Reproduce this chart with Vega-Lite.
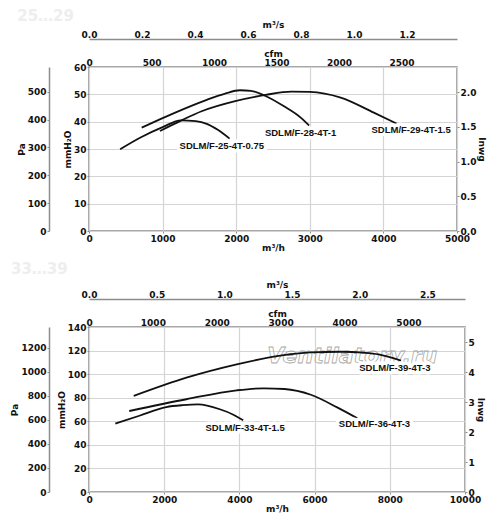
{
  "$schema": "https://vega.github.io/schema/vega-lite/v6.json",
  "padding": {"left": 10, "top": 8, "right": 5, "bottom": 2},
  "background": "white",
  "datasets": {
    "fans2529": [
      {"model": "SDLM/F-25-4T-0.75", "q": 423, "p": 29.9},
      {"model": "SDLM/F-25-4T-0.75", "q": 700, "p": 34.2},
      {"model": "SDLM/F-25-4T-0.75", "q": 1000, "p": 38.0},
      {"model": "SDLM/F-25-4T-0.75", "q": 1250, "p": 40.5},
      {"model": "SDLM/F-25-4T-0.75", "q": 1450, "p": 40.2},
      {"model": "SDLM/F-25-4T-0.75", "q": 1600, "p": 39.2},
      {"model": "SDLM/F-25-4T-0.75", "q": 1750, "p": 37.0},
      {"model": "SDLM/F-25-4T-0.75", "q": 1910, "p": 33.8},
      {"model": "SDLM/F-28-4T-1", "q": 716, "p": 37.8},
      {"model": "SDLM/F-28-4T-1", "q": 1000, "p": 41.3},
      {"model": "SDLM/F-28-4T-1", "q": 1300, "p": 44.8},
      {"model": "SDLM/F-28-4T-1", "q": 1600, "p": 48.0},
      {"model": "SDLM/F-28-4T-1", "q": 1850, "p": 50.3},
      {"model": "SDLM/F-28-4T-1", "q": 2050, "p": 51.5},
      {"model": "SDLM/F-28-4T-1", "q": 2200, "p": 51.3},
      {"model": "SDLM/F-28-4T-1", "q": 2400, "p": 49.4},
      {"model": "SDLM/F-28-4T-1", "q": 2650, "p": 45.6},
      {"model": "SDLM/F-28-4T-1", "q": 2880, "p": 41.4},
      {"model": "SDLM/F-28-4T-1", "q": 2990, "p": 38.6},
      {"model": "SDLM/F-29-4T-1.5", "q": 964, "p": 36.6},
      {"model": "SDLM/F-29-4T-1.5", "q": 1250, "p": 40.4},
      {"model": "SDLM/F-29-4T-1.5", "q": 1530, "p": 43.8},
      {"model": "SDLM/F-29-4T-1.5", "q": 2000, "p": 47.6},
      {"model": "SDLM/F-29-4T-1.5", "q": 2400, "p": 49.8},
      {"model": "SDLM/F-29-4T-1.5", "q": 2750, "p": 51.0},
      {"model": "SDLM/F-29-4T-1.5", "q": 3000, "p": 50.9},
      {"model": "SDLM/F-29-4T-1.5", "q": 3420, "p": 48.8},
      {"model": "SDLM/F-29-4T-1.5", "q": 3870, "p": 43.3},
      {"model": "SDLM/F-29-4T-1.5", "q": 4180, "p": 39.3}
    ],
    "labels2529": [
      {"model": "SDLM/F-25-4T-0.75", "q": 1804, "p": 31.1},
      {"model": "SDLM/F-28-4T-1", "q": 2874, "p": 35.7},
      {"model": "SDLM/F-29-4T-1.5", "q": 4376, "p": 37.0}
    ],
    "fans3339": [
      {"model": "SDLM/F-33-4T-1.5", "q": 700, "p": 58.0},
      {"model": "SDLM/F-33-4T-1.5", "q": 1340, "p": 64.7},
      {"model": "SDLM/F-33-4T-1.5", "q": 2054, "p": 72.1},
      {"model": "SDLM/F-33-4T-1.5", "q": 2500, "p": 73.7},
      {"model": "SDLM/F-33-4T-1.5", "q": 2900, "p": 74.3},
      {"model": "SDLM/F-33-4T-1.5", "q": 3480, "p": 70.2},
      {"model": "SDLM/F-33-4T-1.5", "q": 3840, "p": 65.6},
      {"model": "SDLM/F-33-4T-1.5", "q": 4100, "p": 60.8},
      {"model": "SDLM/F-36-4T-3", "q": 1071, "p": 68.7},
      {"model": "SDLM/F-36-4T-3", "q": 2590, "p": 78.7},
      {"model": "SDLM/F-36-4T-3", "q": 3929, "p": 86.3},
      {"model": "SDLM/F-36-4T-3", "q": 4650, "p": 88.0},
      {"model": "SDLM/F-36-4T-3", "q": 5200, "p": 87.4},
      {"model": "SDLM/F-36-4T-3", "q": 5900, "p": 82.5},
      {"model": "SDLM/F-36-4T-3", "q": 6600, "p": 71.8},
      {"model": "SDLM/F-36-4T-3", "q": 7140, "p": 62.5},
      {"model": "SDLM/F-39-4T-3", "q": 1189, "p": 81.5},
      {"model": "SDLM/F-39-4T-3", "q": 2590, "p": 97.0},
      {"model": "SDLM/F-39-4T-3", "q": 3929, "p": 108.3},
      {"model": "SDLM/F-39-4T-3", "q": 5000, "p": 115.3},
      {"model": "SDLM/F-39-4T-3", "q": 5900, "p": 118.5},
      {"model": "SDLM/F-39-4T-3", "q": 6700, "p": 119.0},
      {"model": "SDLM/F-39-4T-3", "q": 7300, "p": 118.2},
      {"model": "SDLM/F-39-4T-3", "q": 7700, "p": 116.8},
      {"model": "SDLM/F-39-4T-3", "q": 8300, "p": 111.5}
    ],
    "labels3339": [
      {"model": "SDLM/F-33-4T-1.5", "q": 4152, "p": 54.6},
      {"model": "SDLM/F-36-4T-3", "q": 7593, "p": 57.4},
      {"model": "SDLM/F-39-4T-3", "q": 8134, "p": 105.5}
    ],
    "watermark": [
      {"text": "Ventilatory.ru", "q": 7000, "p": 115.4}
    ]
  },
  "vconcat": [
    {
      "title": {"text": "25…29", "anchor": "start", "frame": "bounds", "color": "#eeeeee", "fontSize": 15, "font": "DejaVu Sans", "fontWeight": "bold", "offset": -4},
      "width": 368,
      "height": 164,
      "layer": [
        {
          "data": {"name": "fans2529"},
          "mark": {"type": "line", "color": "#111111", "strokeWidth": 1.8, "interpolate": "monotone"},
          "encoding": {
            "x": {"field": "q", "type": "quantitative", "scale": {"domain": [0, 5000], "nice": false},
              "axis": {"orient": "bottom", "values": [0, 1000, 2000, 3000, 4000, 5000], "format": "d", "title": "m³/h", "grid": true, "domain": false, "titlePadding": 0}},
            "y": {"field": "p", "type": "quantitative", "scale": {"domain": [0, 60], "nice": false},
              "axis": {"orient": "left", "values": [0, 10, 20, 30, 40, 50, 60], "format": "d", "title": "mmH₂O", "grid": true, "domain": false}},
            "detail": {"field": "model"}
          }
        },
        {
          "data": {"name": "labels2529"},
          "mark": {"type": "text", "font": "Liberation Sans", "fontWeight": "bold", "fontSize": 9.5, "fill": "white", "stroke": "white", "strokeWidth": 7, "strokeJoin": "round"},
          "encoding": {
            "x": {"field": "q", "type": "quantitative", "scale": {"domain": [0, 5000], "nice": false}, "axis": null},
            "y": {"field": "p", "type": "quantitative", "scale": {"domain": [0, 60], "nice": false}, "axis": null},
            "text": {"field": "model"}
          }
        },
        {
          "data": {"name": "labels2529"},
          "mark": {"type": "text", "font": "Liberation Sans", "fontWeight": "bold", "fontSize": 9.5, "color": "#111111"},
          "encoding": {
            "x": {"field": "q", "type": "quantitative", "scale": {"domain": [0, 5000], "nice": false}, "axis": null},
            "y": {"field": "p", "type": "quantitative", "scale": {"domain": [0, 60], "nice": false}, "axis": null},
            "text": {"field": "model"}
          }
        },
        {
          "data": {"name": "labels2529"},
          "mark": {"type": "point", "opacity": 0, "clip": true},
          "encoding": {
            "x": {"field": "q", "type": "quantitative", "scale": {"domain": [0, 5000], "nice": false}, "axis": null},
            "y": {"field": "p", "type": "quantitative", "scale": {"domain": [0, 588.4], "nice": false},
              "axis": {"orient": "left", "offset": 40, "values": [0, 100, 200, 300, 400, 500], "format": "d", "title": "Pa", "grid": false, "domain": true}}
          }
        },
        {
          "data": {"name": "labels2529"},
          "mark": {"type": "point", "opacity": 0, "clip": true},
          "encoding": {
            "x": {"field": "q", "type": "quantitative", "scale": {"domain": [0, 5000], "nice": false}, "axis": null},
            "y": {"field": "p", "type": "quantitative", "scale": {"domain": [0, 2.362], "nice": false},
              "axis": {"orient": "right", "values": [0, 0.5, 1, 1.5, 2], "format": ".1f", "title": "Inwg", "grid": false, "domain": false}}
          }
        },
        {
          "data": {"name": "labels2529"},
          "mark": {"type": "point", "opacity": 0, "clip": true},
          "encoding": {
            "x": {"field": "q", "type": "quantitative", "scale": {"domain": [0, 2943], "nice": false},
              "axis": {"orient": "top", "values": [0, 500, 1000, 1500, 2000, 2500], "format": "d", "title": "cfm", "grid": false, "domain": false, "ticks": false, "labelPadding": 0, "titlePadding": 0}},
            "y": {"field": "p", "type": "quantitative", "scale": {"domain": [0, 60], "nice": false}, "axis": null}
          }
        },
        {
          "data": {"name": "labels2529"},
          "mark": {"type": "point", "opacity": 0, "clip": true},
          "encoding": {
            "x": {"field": "q", "type": "quantitative", "scale": {"domain": [0, 1.3889], "nice": false},
              "axis": {"orient": "top", "offset": 28, "values": [0, 0.2, 0.4, 0.6, 0.8, 1.0, 1.2], "format": ".1f", "title": "m³/s", "grid": false, "domain": true, "ticks": false, "labelPadding": 0, "titlePadding": 1}},
            "y": {"field": "p", "type": "quantitative", "scale": {"domain": [0, 60], "nice": false}, "axis": null}
          }
        }
      ],
      "resolve": {"scale": {"x": "independent", "y": "independent"}}
    },
    {
      "title": {"text": "33…39", "anchor": "start", "frame": "bounds", "color": "#eeeeee", "fontSize": 15, "font": "DejaVu Sans", "fontWeight": "bold", "offset": 3},
      "width": 376,
      "height": 165,
      "layer": [
        {
          "data": {"name": "watermark"},
          "mark": {"type": "text", "font": "DejaVu Sans", "fontStyle": "italic", "fontWeight": "bold", "fontSize": 22, "fillOpacity": 0, "stroke": "#aaaaaa", "strokeWidth": 0.8},
          "encoding": {
            "x": {"field": "q", "type": "quantitative", "scale": {"domain": [0, 10000], "nice": false}, "axis": null},
            "y": {"field": "p", "type": "quantitative", "scale": {"domain": [0, 140], "nice": false}, "axis": null},
            "text": {"field": "text"}
          }
        },
        {
          "data": {"name": "fans3339"},
          "mark": {"type": "line", "color": "#111111", "strokeWidth": 1.8, "interpolate": "monotone"},
          "encoding": {
            "x": {"field": "q", "type": "quantitative", "scale": {"domain": [0, 10000], "nice": false},
              "axis": {"orient": "bottom", "values": [0, 2000, 4000, 6000, 8000, 10000], "format": "d", "title": "m³/h", "grid": true, "domain": false, "titlePadding": 0}},
            "y": {"field": "p", "type": "quantitative", "scale": {"domain": [0, 140], "nice": false},
              "axis": {"orient": "left", "values": [0, 20, 40, 60, 80, 100, 120, 140], "format": "d", "title": "mmH₂O", "grid": true, "domain": false}},
            "detail": {"field": "model"}
          }
        },
        {
          "data": {"name": "labels3339"},
          "mark": {"type": "text", "font": "Liberation Sans", "fontWeight": "bold", "fontSize": 9.5, "fill": "white", "stroke": "white", "strokeWidth": 7, "strokeJoin": "round"},
          "encoding": {
            "x": {"field": "q", "type": "quantitative", "scale": {"domain": [0, 10000], "nice": false}, "axis": null},
            "y": {"field": "p", "type": "quantitative", "scale": {"domain": [0, 140], "nice": false}, "axis": null},
            "text": {"field": "model"}
          }
        },
        {
          "data": {"name": "labels3339"},
          "mark": {"type": "text", "font": "Liberation Sans", "fontWeight": "bold", "fontSize": 9.5, "color": "#111111"},
          "encoding": {
            "x": {"field": "q", "type": "quantitative", "scale": {"domain": [0, 10000], "nice": false}, "axis": null},
            "y": {"field": "p", "type": "quantitative", "scale": {"domain": [0, 140], "nice": false}, "axis": null},
            "text": {"field": "model"}
          }
        },
        {
          "data": {"name": "labels3339"},
          "mark": {"type": "point", "opacity": 0, "clip": true},
          "encoding": {
            "x": {"field": "q", "type": "quantitative", "scale": {"domain": [0, 10000], "nice": false}, "axis": null},
            "y": {"field": "p", "type": "quantitative", "scale": {"domain": [0, 1372.9], "nice": false},
              "axis": {"orient": "left", "offset": 40, "values": [0, 200, 400, 600, 800, 1000, 1200], "format": "d", "title": "Pa", "grid": false, "domain": true}}
          }
        },
        {
          "data": {"name": "labels3339"},
          "mark": {"type": "point", "opacity": 0, "clip": true},
          "encoding": {
            "x": {"field": "q", "type": "quantitative", "scale": {"domain": [0, 10000], "nice": false}, "axis": null},
            "y": {"field": "p", "type": "quantitative", "scale": {"domain": [0, 5.512], "nice": false},
              "axis": {"orient": "right", "values": [0, 1, 2, 3, 4, 5], "format": "d", "title": "Inwg", "grid": false, "domain": false}}
          }
        },
        {
          "data": {"name": "labels3339"},
          "mark": {"type": "point", "opacity": 0, "clip": true},
          "encoding": {
            "x": {"field": "q", "type": "quantitative", "scale": {"domain": [0, 5886], "nice": false},
              "axis": {"orient": "top", "values": [0, 1000, 2000, 3000, 4000, 5000], "format": "d", "title": "cfm", "grid": false, "domain": false, "ticks": false, "labelPadding": 0, "titlePadding": 0}},
            "y": {"field": "p", "type": "quantitative", "scale": {"domain": [0, 140], "nice": false}, "axis": null}
          }
        },
        {
          "data": {"name": "labels3339"},
          "mark": {"type": "point", "opacity": 0, "clip": true},
          "encoding": {
            "x": {"field": "q", "type": "quantitative", "scale": {"domain": [0, 2.7778], "nice": false},
              "axis": {"orient": "top", "offset": 28, "values": [0, 0.5, 1.0, 1.5, 2.0, 2.5], "format": ".1f", "title": "m³/s", "grid": false, "domain": true, "ticks": false, "labelPadding": 0, "titlePadding": 1}},
            "y": {"field": "p", "type": "quantitative", "scale": {"domain": [0, 140], "nice": false}, "axis": null}
          }
        }
      ],
      "resolve": {"scale": {"x": "independent", "y": "independent"}}
    }
  ],
  "spacing": 8,
  "config": {
    "font": "DejaVu Sans",
    "view": {"stroke": "#8c8c8c", "strokeWidth": 1.5},
    "axis": {
      "labelFont": "DejaVu Sans",
      "labelFontSize": 9,
      "labelFontWeight": "bold",
      "labelColor": "#111111",
      "titleFont": "DejaVu Sans",
      "titleFontSize": 9,
      "titleFontWeight": "bold",
      "titleColor": "#111111",
      "domainColor": "#8c8c8c",
      "domainWidth": 1.5,
      "tickColor": "#8c8c8c",
      "tickSize": 2,
      "gridColor": "#d4d4d4",
      "gridWidth": 1.2,
      "labelFlush": false,
      "labelOverlap": false,
      "labelBound": false,
      "labelPadding": 1,
      "titlePadding": 1
    }
  }
}
